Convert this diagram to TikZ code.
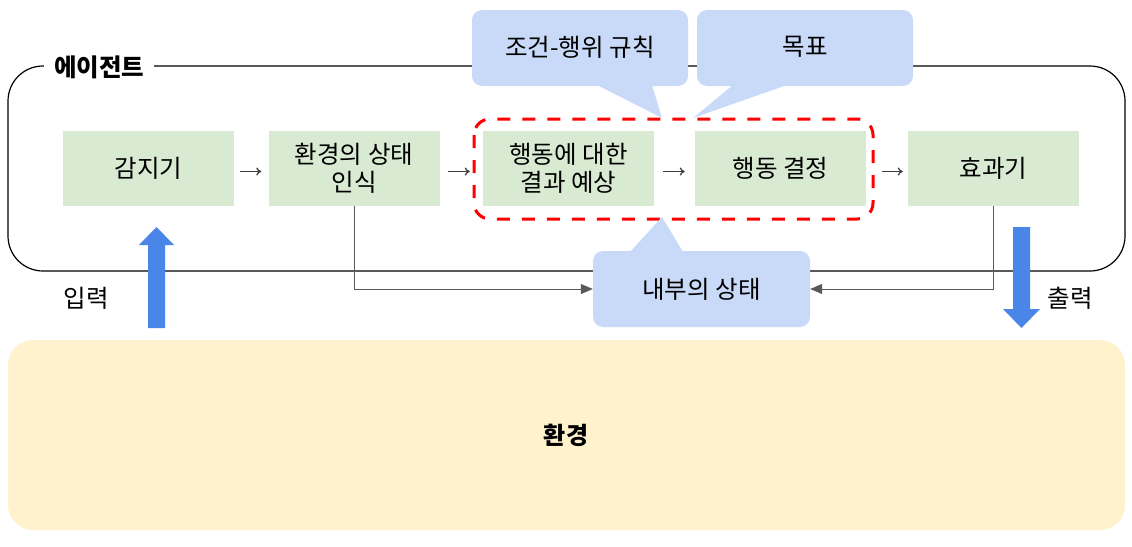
\documentclass[tikz,border=0pt]{standalone}
\usepackage{fontspec}
\setmainfont{Noto Sans CJK KR}
\usetikzlibrary{arrows.meta}
\definecolor{gbox}{HTML}{D9EAD3}
\definecolor{bcall}{HTML}{C9DAF8}
\definecolor{envc}{HTML}{FFF2CC}
\definecolor{barrow}{HTML}{4A86E8}
\definecolor{conn}{HTML}{595959}
\begin{document}
\begin{tikzpicture}[x=1pt,y=-1pt,
  gnode/.style={fill=gbox,minimum width=171pt,minimum height=75pt,align=center,font=\fontsize{24.5}{28}\selectfont,inner sep=0pt},
  callout/.style={fill=bcall,rounded corners=10pt},
  lbl/.style={font=\fontsize{24.5}{28}\selectfont,inner sep=0pt},
  small/.style={-{To[length=5pt,width=8pt]},black!75,line width=1.3pt},
  feed/.style={-{Triangle[length=12pt,width=10pt]},conn,line width=0.8pt}]
\useasboundingbox (0,0) rectangle (1132,546);
% environment
\fill[envc,rounded corners=25pt] (8,340) rectangle (1125,530);
\node[font=\fontsize{24}{28}\selectfont\bfseries] (env) at (566,435) {환경};
% agent frame
\draw[black,line width=1.2pt,rounded corners=35pt] (8,66) rectangle (1125,271);
\node[fill=white,inner xsep=10pt,inner ysep=2pt,font=\fontsize{24.5}{28}\selectfont\bfseries,anchor=west] (agent) at (44,67) {에이전트};
% green boxes
\node[gnode] (s) at (148.5,168.5) {감지기};
\node[gnode] (p) at (354,168.5) {환경의 상태\\인식};
\node[gnode] (r) at (568.5,168.5) {행동에 대한\\결과 예상};
\node[gnode] (d) at (780.5,168.5) {행동 결정};
\node[gnode] (e) at (993.5,168.5) {효과기};
\draw[small,shorten <=6pt,shorten >=7pt] ([yshift=-3pt]s.east) -- ([yshift=-3pt]p.west);
\draw[small,shorten <=8pt,shorten >=13pt] ([yshift=-3pt]p.east) -- ([yshift=-3pt]r.west);
\draw[small,shorten <=9pt,shorten >=10pt] ([yshift=-3pt]r.east) -- ([yshift=-3pt]d.west);
\draw[small,shorten <=16pt,shorten >=5pt] ([yshift=-3pt]d.east) -- ([yshift=-3pt]e.west);
% red dashed group
\draw[red,line width=3pt,dash pattern=on 13pt off 12pt,rounded corners=16pt] (474,119) rectangle (873,219);
% callouts
\fill[bcall] (597,85) -- (662,118) -- (652,85) -- cycle;
\fill[callout] (472,10) rectangle (688,86);
\node[lbl] (rule) at (580,47) {조건-행위 규칙};
\fill[bcall] (733,85) -- (693,118) -- (787,85) -- cycle;
\fill[callout] (697,10) rectangle (913,86);
\node[lbl] (goal) at (805,47) {목표};
\fill[bcall] (630,252) -- (662,217) -- (683,252) -- cycle;
\fill[callout] (593,251) rectangle (810,327);
\node[lbl,minimum width=217pt,minimum height=76pt] (st) at (701.5,289) {내부의 상태};
% feedback connectors
\draw[feed] (p.south) |- (st.west);
\draw[feed] (e.south) |- (st.east);
% blue arrows
\fill[barrow] (148,328) -- (148,245) -- (139,245) -- (156.5,227) -- (174,245) -- (165,245) -- (165,328) -- cycle;
\fill[barrow] (1013,227) -- (1013,309) -- (1003,309) -- (1021.5,328) -- (1040,309) -- (1030,309) -- (1030,227) -- cycle;
\node[lbl] (in) at (86,298) {입력};
\node[lbl] (out) at (1070,298) {출력};
\end{tikzpicture}
\end{document}
